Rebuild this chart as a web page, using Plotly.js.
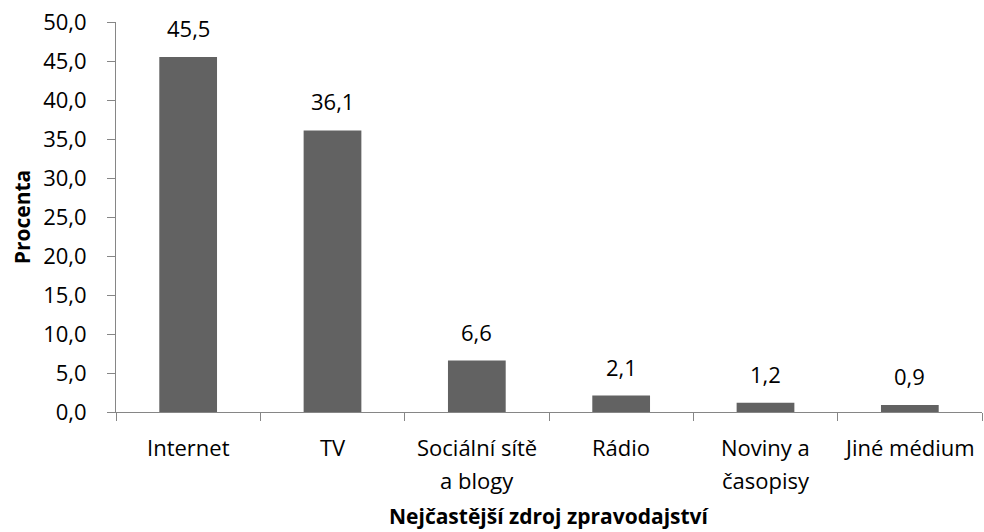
<!DOCTYPE html>
<html>
<head>
<meta charset="utf-8">
<script src="https://cdn.plot.ly/plotly-3.0.1.min.js"></script>
<style>html,body{margin:0;padding:0;background:#fff;}#chart{width:984px;height:532px;}</style>
</head>
<body>
<div id="chart"></div>
<script>
var categories = ["Internet", "TV", "Sociální sítě a blogy", "Rádio", "Noviny a časopisy", "Jiné médium"];
var labelLine1 = ["Internet", "TV", "Sociální sítě", "Rádio", "Noviny a", "Jiné médium"];
var labelLine2 = ["", "", "a blogy", "", "časopisy", ""];
var values = [45.5, 36.1, 6.6, 2.1, 1.2, 0.9];
var yTicks = [0, 5, 10, 15, 20, 25, 30, 35, 40, 45, 50];
var xTitle = "Nejčastější zdroj zpravodajství";
var yTitle = "Procenta";

var FONT = "Open Sans, sans-serif";
var FS = 22;
var TFS = 21;
var axisColor = "#868686";

var annotations = [];
values.forEach(function (v, i) {
  annotations.push({
    x: categories[i], y: v, xref: "x", yref: "y",
    text: v.toFixed(1).replace(".", ","),
    showarrow: false, yanchor: "bottom", yshift: 12,
    font: {family: FONT, size: FS, color: "#000"}
  });
});
categories.forEach(function (c, i) {
  annotations.push({
    x: c, y: 0, xref: "x", yref: "y",
    text: labelLine1[i], showarrow: false, yanchor: "middle", yshift: -35,
    font: {family: FONT, size: FS, color: "#000"}
  });
  if (labelLine2[i]) {
    annotations.push({
      x: c, y: 0, xref: "x", yref: "y",
      text: labelLine2[i], showarrow: false, yanchor: "middle", yshift: -68,
      font: {family: FONT, size: FS, color: "#000"}
    });
  }
});
annotations.push({
  x: 0.5, y: 0, xref: "paper", yref: "paper", yshift: -104,
  text: "<b>" + xTitle + "</b>", showarrow: false, yanchor: "middle",
  font: {family: FONT, size: TFS, color: "#000"}
});

var trace = {
  type: "bar",
  x: categories,
  y: values,
  marker: {color: "#626262"},
  hoverinfo: "none"
};

var layout = {
  width: 984, height: 532,
  margin: {l: 116, r: 2, t: 22, b: 120},
  paper_bgcolor: "#fff", plot_bgcolor: "#fff",
  separators: ", ",
  bargap: 0.6,
  showlegend: false,
  font: {family: FONT, size: FS, color: "#000"},
  xaxis: {
    type: "category",
    showticklabels: false,
    tickson: "boundaries",
    ticks: "outside", ticklen: 8, tickcolor: axisColor, tickwidth: 1,
    showline: true, linecolor: axisColor, linewidth: 1,
    showgrid: false, zeroline: false, fixedrange: true
  },
  yaxis: {
    range: [0, 50],
    tickmode: "array", tickvals: yTicks,
    ticktext: yTicks.map(function (t) { return t.toFixed(1).replace(".", ","); }),
    ticks: "outside", ticklen: 8, tickcolor: axisColor, tickwidth: 1,
    ticklabelstandoff: 16,
    showline: true, linecolor: axisColor, linewidth: 1,
    showgrid: false, zeroline: false, fixedrange: true,
    tickfont: {family: FONT, size: FS, color: "#000"},
    title: {text: "<b>" + yTitle + "</b>", font: {family: FONT, size: TFS, color: "#000"}, standoff: 6}
  },
  annotations: annotations
};

Plotly.newPlot("chart", [trace], layout, {displayModeBar: false, staticPlot: true});
</script>
</body>
</html>
